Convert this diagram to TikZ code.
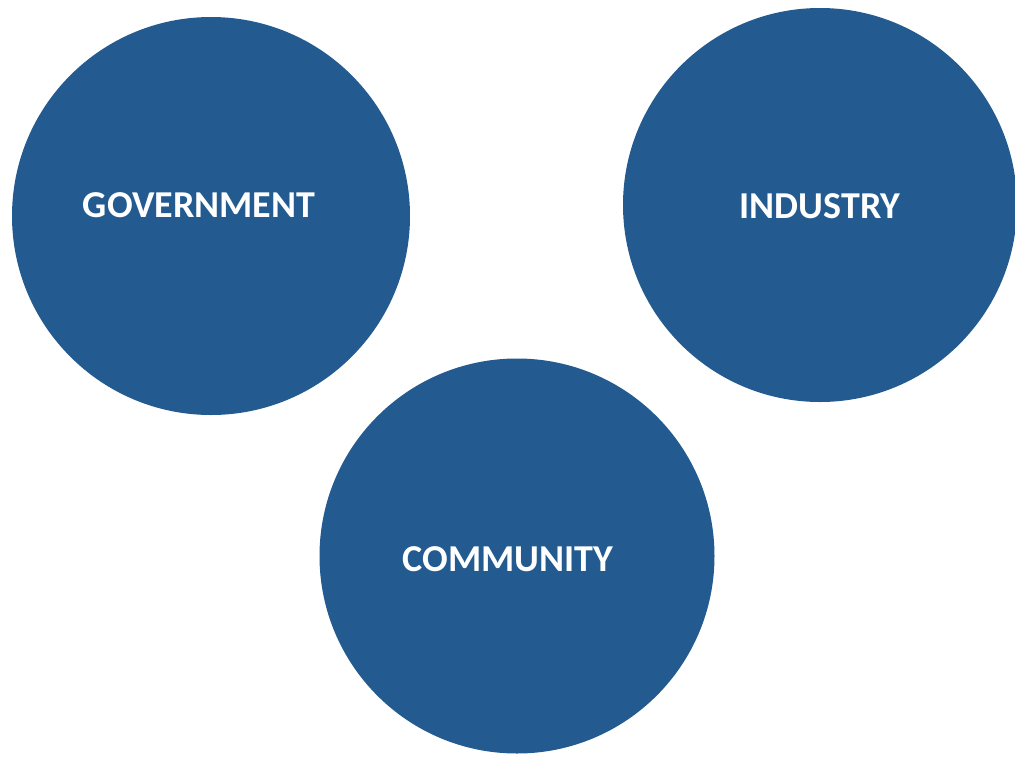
\documentclass[tikz,border=0pt]{standalone}
\usepackage{fontspec}
\setmainfont{Carlito}
\usetikzlibrary{positioning}
\definecolor{ballblue}{HTML}{235B90}

\begin{document}
\begin{tikzpicture}[x=1pt, y=-1pt, every node/.style={inner sep=0pt},
    ball/.style={circle, fill=ballblue, minimum size=#1},
    balltext/.style={text=white, font=\bfseries\fontsize{38}{40}\selectfont}]
			% Fix the page size
			\useasboundingbox (0,0) rectangle (1015,756);

			% Draw the circles
			\node[ball=398pt] (gov) at (211,216) {};
			\node[ball=394pt] (ind) at (820,205) {};
			\node[ball=395pt] (com) at (517,556) {};

			% Put the words in the circles
			\node[balltext] (govtext) at (199,205) {GOVERNMENT};
			\node[balltext] (indtext) at (820,206) {INDUSTRY};
			\node[balltext] (comtext) at (508,559) {COMMUNITY};

		\end{tikzpicture}
\end{document}
